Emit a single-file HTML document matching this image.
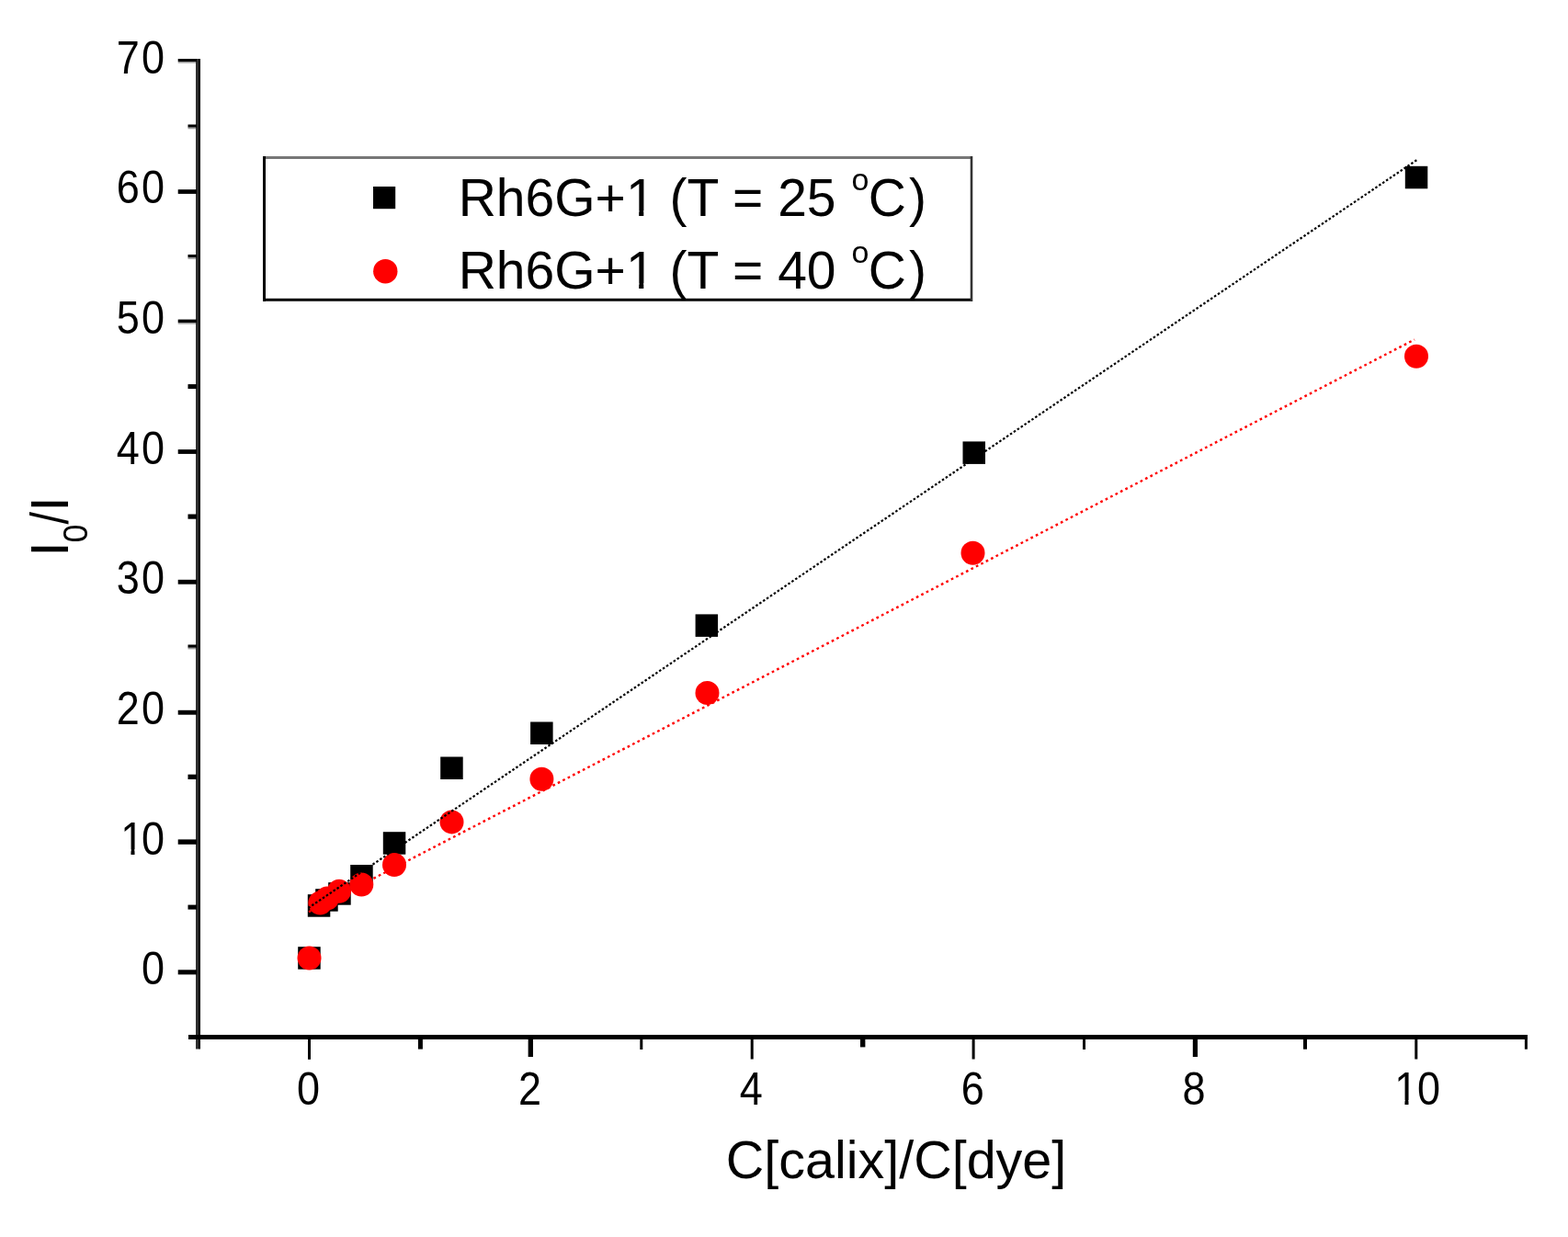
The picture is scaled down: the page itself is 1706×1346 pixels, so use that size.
<!DOCTYPE html>
<html><head><meta charset="utf-8"><title>Plot</title>
<style>html,body{margin:0;padding:0;background:#fff;overflow:hidden;}svg{display:block;}</style>
</head><body>
<svg width="1706" height="1346" viewBox="0 0 1706 1346">
<rect width="1706" height="1346" fill="#fff"/>
<rect x="213" y="64" width="3" height="1077.5" fill="#2e2e2e"/>
<rect x="216" y="64" width="2" height="1077.5" fill="#000"/>
<line x1="205" y1="1128.5" x2="1662" y2="1128.5" stroke="#000" stroke-width="5"/>
<rect x="193.7" y="64" width="20.3" height="3.0" fill="#000"/>
<rect x="204.5" y="135.5" width="9.5" height="3.2" fill="#000"/>
<rect x="193.7" y="206.2" width="20.3" height="4.7" fill="#000"/>
<rect x="204.5" y="277" width="9.5" height="3.3" fill="#000"/>
<rect x="193.7" y="347.6" width="20.3" height="3.4" fill="#000"/>
<rect x="204.5" y="418.1" width="9.5" height="5.0" fill="#000"/>
<rect x="193.7" y="489.1" width="20.3" height="4.8" fill="#000"/>
<rect x="204.5" y="559.5" width="9.5" height="5.2" fill="#000"/>
<rect x="193.7" y="630.8" width="20.3" height="4.9" fill="#000"/>
<rect x="204.5" y="701.5" width="9.5" height="3.3" fill="#000"/>
<rect x="193.7" y="772.8" width="20.3" height="4.9" fill="#000"/>
<rect x="204.5" y="842.7" width="9.5" height="5.3" fill="#000"/>
<rect x="193.7" y="913.4" width="20.3" height="5.4" fill="#000"/>
<rect x="204.5" y="984.6" width="9.5" height="5.0" fill="#000"/>
<rect x="193.7" y="1055.3" width="20.3" height="5.1" fill="#000"/>
<rect x="193.7" y="67" width="19.3" height="1.6" fill="#999"/>
<rect x="204.5" y="138.7" width="8.5" height="1.6" fill="#999"/>
<rect x="204.5" y="280.3" width="8.5" height="1.6" fill="#999"/>
<rect x="193.7" y="351" width="19.3" height="1.6" fill="#999"/>
<rect x="204.5" y="704.8" width="8.5" height="1.6" fill="#999"/>
<rect x="335.00" y="1130" width="3" height="22.8" fill="#000"/>
<rect x="454.90" y="1130" width="5" height="11.6" fill="#000"/>
<rect x="574.65" y="1130" width="5.3" height="20.0" fill="#000"/>
<rect x="696.30" y="1130" width="3" height="12.0" fill="#000"/>
<rect x="816.70" y="1130" width="3" height="22.5" fill="#000"/>
<rect x="936.00" y="1130" width="5.4" height="9.4" fill="#000"/>
<rect x="1057.60" y="1130" width="3" height="22.5" fill="#000"/>
<rect x="1178.00" y="1130" width="3" height="12.0" fill="#000"/>
<rect x="1297.80" y="1130" width="5.2" height="20.0" fill="#000"/>
<rect x="1418.00" y="1130" width="4" height="11.7" fill="#000"/>
<rect x="1539.30" y="1130" width="3" height="22.5" fill="#000"/>
<rect x="1658.90" y="1130" width="3" height="11.7" fill="#000"/>
<text x="0" y="0" font-family="Liberation Sans, Arial, sans-serif" font-size="50" letter-spacing="2.6" text-anchor="end" transform="translate(181.4 1071.1) scale(0.9 1)">0</text>
<text x="-60.8" y="0" font-family="Liberation Sans, Arial, sans-serif" font-size="50" letter-spacing="2.6" transform="translate(181.4 929.5) scale(0.9 1)"><tspan dx="5">1</tspan><tspan dx="-5">0</tspan></text>
<text x="0" y="0" font-family="Liberation Sans, Arial, sans-serif" font-size="50" letter-spacing="2.6" text-anchor="end" transform="translate(181.4 787.8) scale(0.9 1)">20</text>
<text x="0" y="0" font-family="Liberation Sans, Arial, sans-serif" font-size="50" letter-spacing="2.6" text-anchor="end" transform="translate(181.4 646.2) scale(0.9 1)">30</text>
<text x="0" y="0" font-family="Liberation Sans, Arial, sans-serif" font-size="50" letter-spacing="2.6" text-anchor="end" transform="translate(181.4 504.5) scale(0.9 1)">40</text>
<text x="0" y="0" font-family="Liberation Sans, Arial, sans-serif" font-size="50" letter-spacing="2.6" text-anchor="end" transform="translate(181.4 362.9) scale(0.9 1)">50</text>
<text x="0" y="0" font-family="Liberation Sans, Arial, sans-serif" font-size="50" letter-spacing="2.6" text-anchor="end" transform="translate(181.4 221.3) scale(0.9 1)">60</text>
<text x="0" y="0" font-family="Liberation Sans, Arial, sans-serif" font-size="50" letter-spacing="2.6" text-anchor="end" transform="translate(181.4 79.6) scale(0.9 1)">70</text>
<text x="0" y="0" font-family="Liberation Sans, Arial, sans-serif" font-size="50" letter-spacing="2.6" text-anchor="middle" transform="translate(336.7 1202) scale(0.9 1)">0</text>
<text x="0" y="0" font-family="Liberation Sans, Arial, sans-serif" font-size="50" letter-spacing="2.6" text-anchor="middle" transform="translate(577.6 1202) scale(0.9 1)">2</text>
<text x="0" y="0" font-family="Liberation Sans, Arial, sans-serif" font-size="50" letter-spacing="2.6" text-anchor="middle" transform="translate(818.4 1202) scale(0.9 1)">4</text>
<text x="0" y="0" font-family="Liberation Sans, Arial, sans-serif" font-size="50" letter-spacing="2.6" text-anchor="middle" transform="translate(1059.3 1202) scale(0.9 1)">6</text>
<text x="0" y="0" font-family="Liberation Sans, Arial, sans-serif" font-size="50" letter-spacing="2.6" text-anchor="middle" transform="translate(1300.1 1202) scale(0.9 1)">8</text>
<text x="-30.4" y="0" font-family="Liberation Sans, Arial, sans-serif" font-size="50" letter-spacing="2.6" transform="translate(1542.0 1202) scale(0.9 1)"><tspan dx="2.8">1</tspan><tspan dx="-2.8">0</tspan></text>
<rect x="133.11" y="924.00" width="9.36" height="6.30" fill="#fff"/>
<rect x="146.50" y="924.00" width="9.01" height="6.30" fill="#fff"/>
<rect x="1519.09" y="1197.00" width="9.36" height="5.30" fill="#fff"/>
<rect x="1532.48" y="1197.00" width="9.01" height="5.30" fill="#fff"/>
<text x="975" y="1282" font-family="Liberation Sans, Arial, sans-serif" font-size="57.5" text-anchor="middle">C[calix]/C[dye]</text>
<text transform="translate(73.9 605.5) rotate(-90)" font-family="Liberation Sans, Arial, sans-serif" font-size="58">I<tspan x="15" y="21.4" font-size="36">0</tspan><tspan x="35" y="0" textLength="13.4" lengthAdjust="spacingAndGlyphs">/</tspan><tspan x="48.9" y="0">I</tspan></text>
<rect x="324.2" y="1030.2" width="24.5" height="24.5" fill="#000"/>
<rect x="334.8" y="973.2" width="24.5" height="24.5" fill="#000"/>
<rect x="343.2" y="967.2" width="24.5" height="24.5" fill="#000"/>
<rect x="357.2" y="960.2" width="24.5" height="24.5" fill="#000"/>
<rect x="381.2" y="941.0" width="24.5" height="24.5" fill="#000"/>
<rect x="416.8" y="905.2" width="24.5" height="24.5" fill="#000"/>
<rect x="479.2" y="823.5" width="24.5" height="24.5" fill="#000"/>
<rect x="577.1" y="785.5" width="24.5" height="24.5" fill="#000"/>
<rect x="756.6" y="668.4" width="24.5" height="24.5" fill="#000"/>
<rect x="1047.5" y="480.4" width="24.5" height="24.5" fill="#000"/>
<rect x="1528.8" y="180.8" width="24.5" height="24.5" fill="#000"/>
<circle cx="336.5" cy="1042.5" r="13" fill="#f00"/>
<circle cx="348.3" cy="982.5" r="13" fill="#f00"/>
<circle cx="356" cy="977.5" r="13" fill="#f00"/>
<circle cx="369" cy="969.7" r="13" fill="#f00"/>
<circle cx="393.3" cy="962.5" r="13" fill="#f00"/>
<circle cx="429" cy="941" r="13" fill="#f00"/>
<circle cx="491.5" cy="894.4" r="13" fill="#f00"/>
<circle cx="589.4" cy="847.8" r="13" fill="#f00"/>
<circle cx="769.5" cy="754" r="13" fill="#f00"/>
<circle cx="1058.5" cy="601.8" r="13" fill="#f00"/>
<circle cx="1541" cy="387.8" r="13" fill="#f00"/>
<line x1="335.4" y1="988" x2="1542.1" y2="173.7" stroke="#000" stroke-width="2.2" stroke-dasharray="2.5 2.2"/>
<line x1="336" y1="992.3" x2="1539" y2="369.5" stroke="#f00" stroke-width="2.4" stroke-dasharray="2.7 3.4"/>
<rect x="287.5" y="171.5" width="769" height="155" fill="#fff" stroke="none"/>
<line x1="286" y1="171.5" x2="1058" y2="171.5" stroke="#777" stroke-width="3"/>
<line x1="287.5" y1="170" x2="287.5" y2="328" stroke="#000" stroke-width="3"/>
<line x1="286" y1="326.3" x2="1058" y2="326.3" stroke="#000" stroke-width="3"/>
<line x1="1057" y1="170" x2="1057" y2="328" stroke="#333" stroke-width="2.6"/>
<rect x="406" y="203" width="24.2" height="24.2" fill="#000"/>
<circle cx="419.3" cy="295.2" r="13.2" fill="#f00"/>
<text x="498.7" y="235" font-family="Liberation Sans, Arial, sans-serif" font-size="57">Rh6G+1 (T = 25 <tspan font-size="34" dx="1" dy="-28.2">o</tspan><tspan dx="-0.5" dy="28.2">C</tspan><tspan dx="3">)</tspan></text>
<text x="498.7" y="314" font-family="Liberation Sans, Arial, sans-serif" font-size="57">Rh6G+1 (T = 40 <tspan font-size="34" dx="1" dy="-28.2">o</tspan><tspan dx="-0.5" dy="28.2">C</tspan><tspan dx="3">)</tspan></text>
<rect x="683.73" y="229.00" width="11.46" height="6.30" fill="#fff"/>
<rect x="700.29" y="229.00" width="11.02" height="6.30" fill="#fff"/>
<rect x="683.73" y="308.00" width="11.46" height="6.30" fill="#fff"/>
<rect x="700.29" y="308.00" width="11.02" height="6.30" fill="#fff"/>
</svg>
</body></html>
